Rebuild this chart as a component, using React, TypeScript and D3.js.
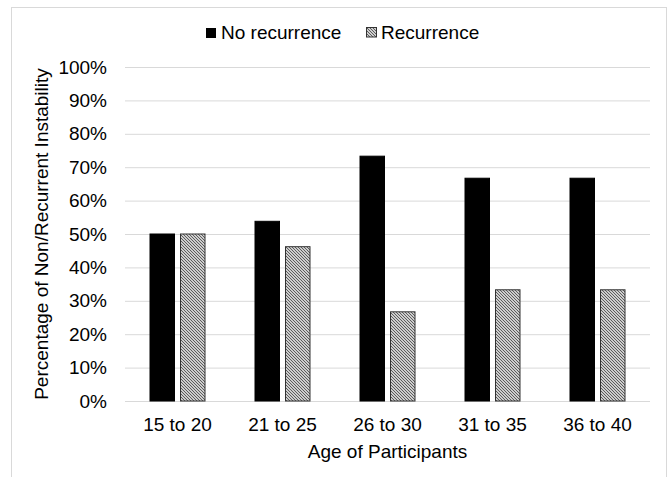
import React from 'react';
import { scaleBand, scaleLinear, range } from 'd3';

const categories = ['15 to 20', '21 to 25', '26 to 30', '31 to 35', '36 to 40'];
const noRecurrence = [50, 53.8, 73.3, 66.7, 66.7];
const recurrence = [50, 46.2, 26.7, 33.3, 33.3];
const yTicks = range(0, 101, 10);

const width = 668;
const height = 477;
const margin = { left: 125, right: 18, top: 67, bottom: 76 };
const font = '"Liberation Sans", Arial, sans-serif';
const fontSize = 19;

const App: React.FC = () => {
  const x = scaleBand<string>()
    .domain(categories)
    .range([margin.left, width - margin.right]);
  const y = scaleLinear()
    .domain([0, 100])
    .range([height - margin.bottom, margin.top]);

  const barW = 24.5;
  const gap = 6;

  return (
    <svg
      width={width}
      height={height}
      style={{ position: 'absolute', left: 0, top: 0, background: '#fff' }}
      fontFamily={font}
    >
      <defs>
        <pattern id="hatch" width={3} height={3} patternUnits="userSpaceOnUse">
          <rect width={3} height={3} fill="#fff" />
          <path
            d="M0,0 L3,3 M-1,2 L1,4 M2,-1 L4,1"
            stroke="#555"
            strokeWidth={1.1}
          />
        </pattern>
      </defs>

      {/* chart area border */}
      <rect
        x={11.5}
        y={7.5}
        width={655}
        height={480}
        fill="none"
        stroke="#d9d9d9"
        strokeWidth={1}
      />

      {/* gridlines and y tick labels */}
      {yTicks.map((t) => (
        <g key={t}>
          <line
            x1={margin.left}
            x2={width - margin.right}
            y1={y(t) + 0.5}
            y2={y(t) + 0.5}
            stroke="#d9d9d9"
            strokeWidth={1}
          />
          <text
            x={107}
            y={y(t)}
            dy="0.35em"
            textAnchor="end"
            fontSize={fontSize}
            fill="#000"
          >
            {`${t}%`}
          </text>
        </g>
      ))}

      {/* bars */}
      {categories.map((c, i) => {
        const cx = (x(c) as number) + x.bandwidth() / 2;
        return (
          <g key={c}>
            <rect
              x={cx - gap / 2 - barW}
              y={y(noRecurrence[i])}
              width={barW}
              height={y(0) - y(noRecurrence[i])}
              fill="#000"
              stroke="#000"
              strokeWidth={1}
            />
            <rect
              x={cx + gap / 2}
              y={y(recurrence[i])}
              width={barW}
              height={y(0) - y(recurrence[i])}
              fill="url(#hatch)"
              stroke="#333"
              strokeWidth={1}
            />
            <text
              x={cx}
              y={431}
              textAnchor="middle"
              fontSize={fontSize}
              fill="#000"
            >
              {c}
            </text>
          </g>
        );
      })}

      {/* axis titles */}
      <text
        x={(margin.left + width - margin.right) / 2}
        y={458}
        textAnchor="middle"
        fontSize={fontSize}
        fill="#000"
      >
        Age of Participants
      </text>
      <text
        transform={`translate(48, ${(y(0) + y(100)) / 2}) rotate(-90)`}
        textAnchor="middle"
        fontSize={fontSize}
        fill="#000"
      >
        Percentage of Non/Recurrent Instability
      </text>

      {/* legend */}
      <rect x={206.5} y={28.5} width={9} height={9} fill="#000" stroke="#000" />
      <text x={221} y={39} fontSize={fontSize} fill="#000">
        No recurrence
      </text>
      <rect
        x={366.5}
        y={27.5}
        width={10}
        height={9.5}
        fill="url(#hatch)"
        stroke="#333"
      />
      <text x={381} y={39} fontSize={fontSize} fill="#000">
        Recurrence
      </text>
    </svg>
  );
};

export default App;
